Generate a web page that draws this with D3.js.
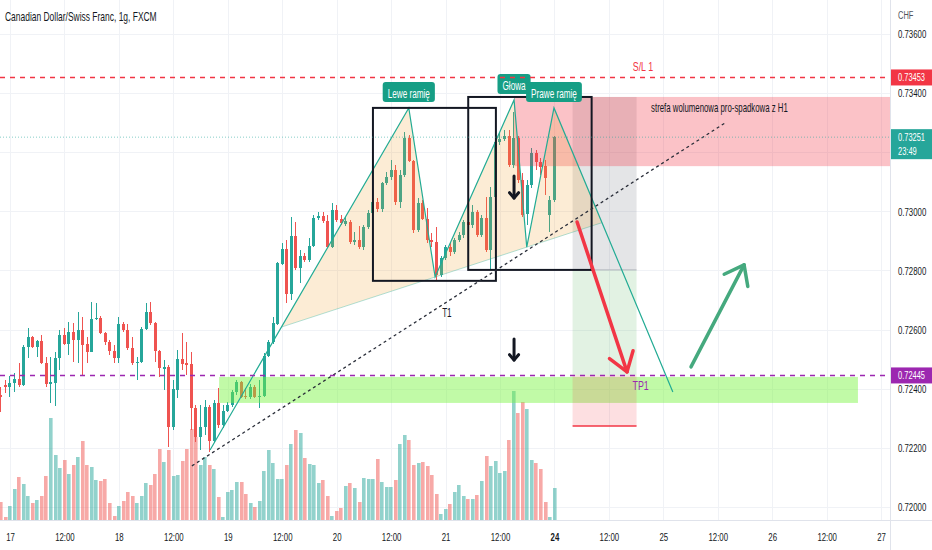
<!DOCTYPE html>
<html><head><meta charset="utf-8">
<script src="https://cdnjs.cloudflare.com/ajax/libs/d3/7.8.5/d3.min.js"></script>
<style>
html,body{margin:0;padding:0;background:#fff;overflow:hidden}
svg{display:block;font-family:"Liberation Sans",Arial,sans-serif}
</style></head><body>
<svg id="chart" width="932" height="550"></svg>
<script>
// ---------- DATA (hourly candles, index = hour from 16th 22:00) ----------
const opens=[0.72379,0.72413,0.72406,0.72419,0.72433,0.72413,0.72541,0.72575,0.72541,0.72561,
0.72487,0.72416,0.72419,0.72504,0.72582,0.72551,0.72592,0.72565,0.72599,0.72551,
0.72524,0.72636,0.72639,0.72589,0.72558,0.72528,0.72504,0.72619,0.72599,0.72538,
0.72487,0.72490,0.72602,0.72660,0.72622,0.72528,0.72467,0.72474,0.72271,0.72396,
0.72501,0.72487,0.72484,0.72335,0.72237,0.72271,0.72338,0.72223,0.72352,0.72277,
0.72325,0.72345,0.72389,0.72423,0.72375,0.72372,0.72406,0.72372,0.72375,0.72511,
0.72558,0.72619,0.72822,0.72873,0.72720,0.72917,0.72808,0.72849,0.72836,0.72883,
0.72978,0.72984,0.72967,0.72879,0.73005,0.72974,0.72957,0.72964,0.72896,0.72903,
0.72879,0.72947,0.72994,0.73032,0.73008,0.73096,0.73116,0.73140,0.73032,0.73123,
0.73248,0.73170,0.72937,0.73028,0.72974,0.72903,0.72896,0.72785,0.72842,0.72879,
0.72863,0.72903,0.72920,0.72964,0.72954,0.72998,0.72920,0.72978,0.72869,0.73049,
0.73235,0.73245,0.73255,0.73157,0.73248,0.73106,0.72991,0.73089,0.73197,0.73167,
0.73153,0.72988,0.73038];
const highs=[0.72406,0.72430,0.72443,0.72453,0.72487,0.72548,0.72606,0.72578,0.72565,0.72582,
0.72507,0.72507,0.72524,0.72599,0.72606,0.72626,0.72622,0.72660,0.72643,0.72575,
0.72693,0.72690,0.72645,0.72592,0.72565,0.72548,0.72643,0.72626,0.72619,0.72575,
0.72507,0.72609,0.72690,0.72693,0.72626,0.72531,0.72497,0.72480,0.72430,0.72531,
0.72589,0.72558,0.72524,0.72345,0.72345,0.72362,0.72345,0.72362,0.72403,0.72345,
0.72355,0.72396,0.72430,0.72426,0.72403,0.72416,0.72413,0.72430,0.72521,0.72565,
0.72643,0.72829,0.72893,0.72903,0.72981,0.72964,0.72869,0.72859,0.72910,0.72988,
0.72998,0.72998,0.72988,0.73028,0.73022,0.72988,0.72981,0.72971,0.72930,0.72951,
0.72954,0.73005,0.73045,0.73045,0.73099,0.73133,0.73174,0.73157,0.73140,0.73268,
0.73258,0.73174,0.73045,0.73038,0.73011,0.72927,0.72947,0.72849,0.72886,0.72893,
0.72910,0.72930,0.72971,0.72971,0.73022,0.73005,0.72988,0.73049,0.73082,0.73241,
0.73268,0.73275,0.73275,0.73336,0.73255,0.73130,0.73106,0.73214,0.73208,0.73180,
0.73174,0.73052,0.73255];
const lows=[0.72321,0.72386,0.72372,0.72389,0.72406,0.72409,0.72504,0.72538,0.72507,0.72484,
0.72406,0.72352,0.72342,0.72463,0.72548,0.72514,0.72490,0.72487,0.72447,0.72487,
0.72524,0.72632,0.72585,0.72548,0.72514,0.72487,0.72487,0.72592,0.72531,0.72480,
0.72430,0.72487,0.72599,0.72616,0.72490,0.72440,0.72396,0.72203,0.72262,0.72369,
0.72463,0.72447,0.72260,0.72220,0.72193,0.72244,0.72186,0.72216,0.72267,0.72267,
0.72321,0.72338,0.72379,0.72369,0.72365,0.72365,0.72369,0.72335,0.72372,0.72507,
0.72551,0.72616,0.72819,0.72690,0.72700,0.72802,0.72758,0.72829,0.72829,0.72879,
0.72971,0.72961,0.72876,0.72876,0.72964,0.72954,0.72951,0.72890,0.72886,0.72873,
0.72869,0.72940,0.72991,0.72998,0.72998,0.73089,0.73106,0.73022,0.73011,0.73116,
0.73167,0.72927,0.72930,0.72971,0.72893,0.72879,0.72768,0.72778,0.72836,0.72849,
0.72856,0.72896,0.72910,0.72944,0.72944,0.72913,0.72913,0.72863,0.72802,0.73045,
0.73224,0.73238,0.73150,0.73147,0.73096,0.72981,0.72954,0.73079,0.73140,0.73123,
0.73055,0.72930,0.73032];
const closes=[0.72372,0.72406,0.72419,0.72433,0.72413,0.72541,0.72575,0.72541,0.72561,0.72487,
0.72416,0.72423,0.72504,0.72582,0.72551,0.72592,0.72565,0.72599,0.72548,0.72524,
0.72636,0.72639,0.72589,0.72558,0.72528,0.72504,0.72619,0.72599,0.72538,0.72487,
0.72490,0.72602,0.72660,0.72622,0.72528,0.72470,0.72474,0.72271,0.72399,0.72501,
0.72484,0.72480,0.72335,0.72237,0.72271,0.72338,0.72223,0.72352,0.72277,0.72325,
0.72345,0.72389,0.72423,0.72372,0.72372,0.72406,0.72372,0.72375,0.72511,0.72558,
0.72622,0.72825,0.72873,0.72720,0.72917,0.72808,0.72849,0.72836,0.72883,0.72978,
0.72984,0.72967,0.72879,0.73005,0.72971,0.72961,0.72967,0.72896,0.72903,0.72879,
0.72947,0.72994,0.73032,0.73008,0.73096,0.73116,0.73140,0.73032,0.73123,0.73248,
0.73170,0.72937,0.73028,0.72974,0.72903,0.72896,0.72785,0.72842,0.72879,0.72863,
0.72903,0.72920,0.72964,0.72954,0.72998,0.72920,0.72978,0.72869,0.73049,0.73235,
0.73245,0.73255,0.73157,0.73248,0.73106,0.72988,0.73089,0.73197,0.73167,0.73150,
0.73113,0.73038,0.73251];
const volumes=[1800,300,1400,3100,4300,3600,2400,1700,2000,2400,
4400,10200,6500,5200,6000,4600,5500,6300,7900,5500,
5300,4000,3900,4100,1700,400,1400,1900,2800,2400,
1700,2400,3700,3500,4600,7100,5800,7000,4400,4500,
5900,7100,9100,8300,5500,6300,5500,5100,2300,300,
2800,3000,3800,3800,2600,1700,1300,1900,4900,7000,
5700,4100,4100,5500,7600,9000,8700,6200,5600,5500,
3700,4000,2400,400,900,1200,3400,3700,3200,1800,
4200,4100,4100,6100,3800,3300,3300,4000,7600,8500,
8000,5500,5700,5800,5400,4500,2600,600,1100,1600,
2800,3500,2400,2100,2100,2500,3900,6400,5400,5900,
4700,4900,8000,12900,10700,11800,11100,6000,5700,5100,
1800,300,3200];

const tickHours=[2,14,26,38,50,62,74,86,98,110,122,134,146,158,170,182,194];
const tickLabels=["17","12:00","18","12:00","19","12:00","20","12:00","21","12:00","24","12:00","25","12:00","26","12:00","27"];
const priceTicks=[0.720,0.722,0.724,0.726,0.728,0.730,0.732,0.734,0.736];
// 0.73200 is hidden behind the last-price label in the reference
const priceTickLabels=["0.72000","0.72200","0.72400","0.72600","0.72800","0.73000","","0.73400","0.73600"];

const title="Canadian Dollar/Swiss Franc, 1g, FXCM";
const currency="CHF";
const slPrice=0.73453, tpPrice=0.72445, lastPrice=0.73251, countdown="23:49";

// head & shoulders pattern points (hour index, price)
const hsHours=[46.1,89.9,95.7,113.1,115.9,121.9,148.1];
const hsPrices=[0.72193,0.73350,0.72778,0.73377,0.72879,0.73350,0.72389];
const hsNames=["Lewe ramię","Głowa","Prawe ramię"];

// rectangles [hourStart, hourEnd] / [priceLow, priceHigh]
const boxHours=[[82,109.1],[103,130.2]];
const boxPrices=[[0.72765,0.73350],[0.72802,0.73387]];
const sellZone={h0:113.1,h1:200,p0:0.73153,p1:0.73387,label:"strefa wolumenowa pro-spadkowa z H1",labelHour:143.3};
const buyZone={h0:48.1,h1:188.9,p0:0.72352,p1:0.72440};
const positionHours=[126,140.1];
const positionLevels=[0.73387,0.72802,0.72445,0.72274];
const trendHours=[42.1,159.6], trendPrices=[0.72139,0.73299];
const redArrowHours=[127.0,138.0], redArrowPrices=[0.72964,0.72457];
const greenArrowHours=[152.1,163.8], greenArrowPrices=[0.72474,0.72819];
const downArrows=[{h:113.1,p0:0.73120,p1:0.73045},{h:113.1,p0:0.72568,p1:0.72497}];
const t1Label={h:98.3,p:0.72656,text:"T1"};
const slLabel={h:141.5,text:"S/L 1"}, tpLabel={h:141.0,text:"TP1"};

// ---------- CHART ----------
const svg=d3.select('#chart');
const PR=890, PB=520;
const x=d3.scaleLinear().domain([0,194]).range([0.9,881.1]);
const y=d3.scaleLinear().domain([0.71956,0.73715]).range([PB,0]);
const yv=d3.scaleLinear().domain([0,12900]).range([PB,391]);
const UP='#26a69a', DN='#ef5350';
const candles=opens.map((o,i)=>({i,o,h:highs[i],l:lows[i],c:closes[i],v:volumes[i]}));

svg.append('rect').attr('width',932).attr('height',550).attr('fill','#fff');
svg.append('defs').append('clipPath').attr('id','plot').append('rect').attr('width',PR).attr('height',PB);
const plot=svg.append('g').attr('clip-path','url(#plot)');

// grid
plot.selectAll('line.vg').data(tickHours).join('line').attr('class','vg')
  .attr('x1',d=>Math.round(x(d))+0.5).attr('x2',d=>Math.round(x(d))+0.5)
  .attr('y1',0).attr('y2',PB).attr('stroke','#f0f2f6');
plot.selectAll('line.hg').data(priceTicks).join('line').attr('class','hg')
  .attr('y1',d=>Math.round(y(d))+0.5).attr('y2',d=>Math.round(y(d))+0.5)
  .attr('x1',0).attr('x2',PR).attr('stroke','#f0f2f6');

// volume
plot.selectAll('rect.vol').data(candles).join('rect').attr('class','vol')
  .attr('x',d=>Math.round(x(d.i)-1.8)).attr('width',3.6)
  .attr('y',d=>yv(d.v)).attr('height',d=>PB-yv(d.v))
  .attr('fill',d=>d.c>=d.o?'rgba(38,166,154,0.5)':'rgba(239,83,80,0.5)');

// candles
const cg=plot.append('g').attr('shape-rendering','crispEdges');
cg.selectAll('rect.wick').data(candles).join('rect').attr('class','wick')
  .attr('x',d=>Math.round(x(d.i)-1.5)+1).attr('width',1)
  .attr('y',d=>y(d.h)).attr('height',d=>Math.max(1,y(d.l)-y(d.h)))
  .attr('fill',d=>d.c>=d.o?UP:DN);
cg.selectAll('rect.body').data(candles).join('rect').attr('class','body')
  .attr('x',d=>Math.round(x(d.i)-1.5)).attr('width',3)
  .attr('y',d=>y(Math.max(d.o,d.c))).attr('height',d=>Math.max(1,Math.abs(y(d.o)-y(d.c))))
  .attr('fill',d=>d.c>=d.o?UP:DN);

// ---------- drawings ----------
const dr=plot.append('g');
dr.append('rect').attr('x',x(buyZone.h0)).attr('width',x(buyZone.h1)-x(buyZone.h0))
  .attr('y',y(buyZone.p1)).attr('height',y(buyZone.p0)-y(buyZone.p1))
  .attr('fill','rgba(118,245,60,0.45)');
const px0=x(positionHours[0]), px1=x(positionHours[1]);
const lv=positionLevels.map(p=>y(p));
dr.append('rect').attr('x',px0).attr('width',px1-px0).attr('y',lv[0]).attr('height',lv[1]-lv[0]).attr('fill','rgba(120,123,134,0.2)');
dr.append('rect').attr('x',px0).attr('width',px1-px0).attr('y',lv[1]).attr('height',lv[2]-lv[1]).attr('fill','rgba(76,175,80,0.16)');
dr.append('rect').attr('x',px0).attr('width',px1-px0).attr('y',lv[2]).attr('height',lv[3]-lv[2]).attr('fill','rgba(242,54,69,0.16)');
dr.append('line').attr('x1',px0).attr('x2',px1).attr('y1',lv[1]).attr('y2',lv[1]).attr('stroke','#b2b5be').attr('stroke-width',1);
dr.append('line').attr('x1',px0).attr('x2',px1).attr('y1',lv[3]).attr('y2',lv[3]).attr('stroke','#f23645').attr('stroke-width',1.5);
dr.append('rect').attr('x',x(sellZone.h0)).attr('width',x(sellZone.h1)-x(sellZone.h0))
  .attr('y',y(sellZone.p1)).attr('height',y(sellZone.p0)-y(sellZone.p1))
  .attr('fill','rgba(242,54,69,0.3)');
dr.append('text').attr('x',x(sellZone.labelHour)).attr('y',y(sellZone.p1)+15)
  .attr('font-size',12).attr('fill','#131722').attr('data-w',137).text(sellZone.label);

// head and shoulders
const P=hsHours.map((h,k)=>[x(h),y(hsPrices[k])]);
function inter(a,b,c,d){
  const den=(a[0]-b[0])*(c[1]-d[1])-(a[1]-b[1])*(c[0]-d[0]);
  const t=((a[0]-c[0])*(c[1]-d[1])-(a[1]-c[1])*(c[0]-d[0]))/den;
  return [a[0]+t*(b[0]-a[0]),a[1]+t*(b[1]-a[1])];
}
const A=inter(P[0],P[1],P[2],P[4]), B=inter(P[5],P[6],P[2],P[4]);
dr.append('path').attr('d',d3.line()([A,P[1],P[2],P[3],P[4],P[5],B])+'Z')
  .attr('fill','rgba(240,160,45,0.2)').attr('stroke','none');
dr.append('line').attr('x1',A[0]).attr('y1',A[1]).attr('x2',B[0]).attr('y2',B[1])
  .attr('stroke','rgba(34,171,148,0.35)').attr('stroke-width',1);
dr.append('path').attr('d',d3.line()(P)).attr('fill','none').attr('stroke','#22ab94').attr('stroke-width',1.2);

boxHours.forEach((bh,k)=>{
  dr.append('rect').attr('x',x(bh[0])).attr('width',x(bh[1])-x(bh[0]))
    .attr('y',y(boxPrices[k][1])).attr('height',y(boxPrices[k][0])-y(boxPrices[k][1]))
    .attr('fill','none').attr('stroke','#131722').attr('stroke-width',2);
});

dr.append('line').attr('x1',x(trendHours[0])).attr('y1',y(trendPrices[0]))
  .attr('x2',x(trendHours[1])).attr('y2',y(trendPrices[1]))
  .attr('stroke','#2a2e39').attr('stroke-width',1.3).attr('stroke-dasharray','3,3');

function arrow(p0,p1,color,w,head,ang){
  dr.append('line').attr('x1',p0[0]).attr('y1',p0[1]).attr('x2',p1[0]).attr('y2',p1[1])
    .attr('stroke',color).attr('stroke-width',w).attr('stroke-linecap','round');
  const a=Math.atan2(p1[1]-p0[1],p1[0]-p0[0]);
  const pts=[[p1[0]-head*Math.cos(a-ang),p1[1]-head*Math.sin(a-ang)],p1,[p1[0]-head*Math.cos(a+ang),p1[1]-head*Math.sin(a+ang)]];
  dr.append('path').attr('d',d3.line()(pts)).attr('fill','none').attr('stroke',color)
    .attr('stroke-width',w).attr('stroke-linecap','round').attr('stroke-linejoin','round');
}
arrow([x(redArrowHours[0]),y(redArrowPrices[0])],[x(redArrowHours[1]),y(redArrowPrices[1])],'#f23645',3.5,22,0.6);
arrow([x(greenArrowHours[0]),y(greenArrowPrices[0])],[x(greenArrowHours[1]),y(greenArrowPrices[1])],'#45a97e',3.5,22,0.65);
downArrows.forEach(a=>arrow([x(a.h),y(a.p0)],[x(a.h),y(a.p1)],'#131722',3,7,0.7));

[1,3,5].forEach((k,j)=>{
  const g=dr.append('g');
  const t=g.append('text').attr('x',P[k][0]).attr('y',P[k][1]-10).attr('text-anchor','middle')
    .attr('font-size',12).attr('fill','#fff').text(hsNames[j]);
  const w=t.node().getComputedTextLength()*0.68;
  g.insert('rect','text').attr('x',P[k][0]-w/2-5).attr('width',w+10).attr('y',P[k][1]-26).attr('height',20)
    .attr('rx',3).attr('fill','#169e85');
});

dr.append('text').attr('x',x(t1Label.h)).attr('y',y(t1Label.p)+4).attr('text-anchor','middle')
  .attr('font-size',12).attr('fill','#131722').text(t1Label.text);

plot.append('line').attr('x1',0).attr('x2',PR).attr('y1',y(lastPrice)).attr('y2',y(lastPrice))
  .attr('stroke','rgba(38,166,154,0.55)').attr('stroke-width',1).attr('stroke-dasharray','1,2');
plot.append('line').attr('x1',0).attr('x2',PR).attr('y1',y(slPrice)).attr('y2',y(slPrice))
  .attr('stroke','#f23645').attr('stroke-width',1.5).attr('stroke-dasharray','5,5');
plot.append('line').attr('x1',0).attr('x2',PR).attr('y1',y(tpPrice)).attr('y2',y(tpPrice))
  .attr('stroke','#9c27b0').attr('stroke-width',1.5).attr('stroke-dasharray','5,5');
plot.append('text').attr('x',x(slLabel.h)).attr('y',y(slPrice)-6).attr('text-anchor','middle')
  .attr('font-size',13).attr('fill','#f23645').text(slLabel.text);
plot.append('text').attr('x',x(tpLabel.h)).attr('y',y(tpPrice)+15).attr('text-anchor','middle')
  .attr('font-size',13).attr('fill','#9c27b0').text(tpLabel.text);

svg.append('text').attr('x',5).attr('y',21).attr('font-size',12.5).attr('fill','#131722')
  .attr('data-w',152).text(title);

// ---------- axes ----------
svg.append('rect').attr('x',PR).attr('y',0).attr('width',932-PR).attr('height',550).attr('fill','#fff');
svg.append('rect').attr('x',0).attr('y',PB).attr('width',932).attr('height',550-PB).attr('fill','#fff');
svg.append('line').attr('x1',PR+0.5).attr('x2',PR+0.5).attr('y1',0).attr('y2',550).attr('stroke','#e0e3eb');
svg.append('line').attr('x1',0).attr('x2',932).attr('y1',PB+0.5).attr('y2',PB+0.5).attr('stroke','#e0e3eb');

const yAxis=d3.axisRight(y).tickValues(priceTicks).tickFormat((d,i)=>priceTickLabels[i]).tickSize(0).tickPadding(8);
const ya=svg.append('g').attr('transform',`translate(${PR},0)`).call(yAxis);
ya.select('.domain').remove();
ya.selectAll('text').attr('font-size',11.5).attr('fill','#131722').attr('font-family','"Liberation Sans",Arial,sans-serif').attr('text-anchor','start').attr('x',8);

const xAxis=d3.axisBottom(x).tickValues(tickHours).tickFormat((d,i)=>tickLabels[i]).tickSize(0).tickPadding(13);
const xa=svg.append('g').attr('transform',`translate(0,${PB})`).call(xAxis);
xa.select('.domain').remove();
xa.selectAll('text').attr('font-size',11.5).attr('fill','#131722').attr('font-family','"Liberation Sans",Arial,sans-serif')
  .attr('font-weight',(d,i)=>tickLabels[i]==="24"?'bold':'normal');

svg.append('text').attr('x',898).attr('y',19).attr('font-size',11).attr('fill','#50535e').text(currency);

function priceBox(p,color,lines){
  const yc=y(p), h=lines.length>1?30:16;
  const top=yc-8;
  svg.append('rect').attr('x',PR+1).attr('y',top).attr('width',932-PR-1).attr('height',h).attr('fill',color);
  lines.forEach((t,k)=>svg.append('text').attr('x',898).attr('y',top+12+k*14).attr('font-size',11).attr('fill','#fff').text(t));
}
priceBox(slPrice,'#f23645',[d3.format('.5f')(slPrice)]);
priceBox(lastPrice,'#26a69a',[d3.format('.5f')(lastPrice),countdown]);
priceBox(tpPrice,'#9c27b0',[d3.format('.5f')(tpPrice)]);

// horizontally condense all texts (the reference is a horizontally squeezed screenshot)
svg.selectAll('text').each(function(){
  const w=this.getComputedTextLength();
  if(!(w>0)) return;
  const f=this.getAttribute('data-w')?(+this.getAttribute('data-w'))/w:0.68;
  const tx=+(this.getAttribute('x')||0);
  const old=this.getAttribute('transform')||'';
  this.setAttribute('transform',`${old} translate(${tx},0) scale(${f.toFixed(3)},1) translate(${-tx},0)`);
});
</script>
</body></html>
